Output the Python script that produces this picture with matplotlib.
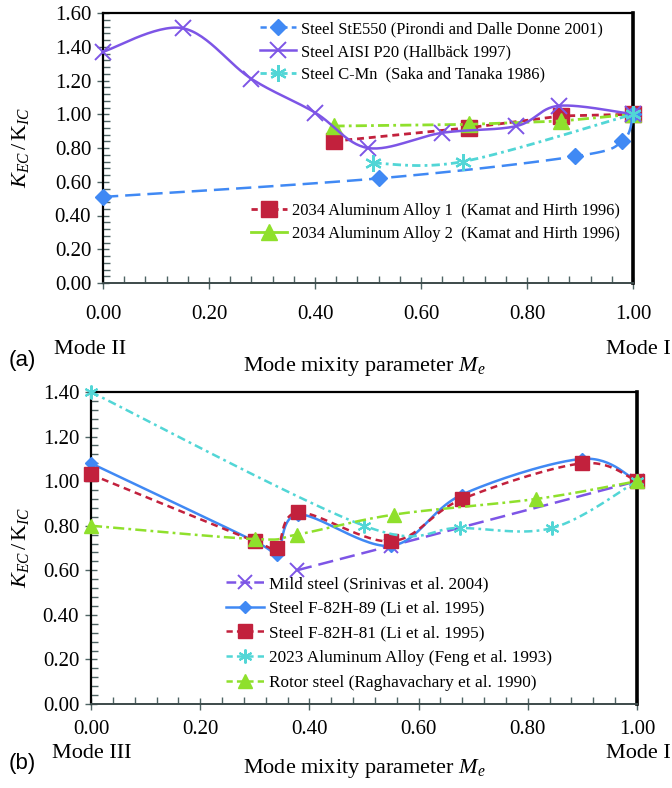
import numpy as np
import matplotlib
matplotlib.use("Agg")
import matplotlib.pyplot as plt
from matplotlib.lines import Line2D
from matplotlib.ticker import MultipleLocator, FormatStrFormatter

plt.rcParams["font.family"] = ["Liberation Serif", "DejaVu Serif"]
plt.rcParams["mathtext.fontset"] = "custom"
plt.rcParams["mathtext.rm"] = "Liberation Serif"
plt.rcParams["mathtext.it"] = "Liberation Serif:italic"
plt.rcParams["lines.scale_dashes"] = False

# ---- panel (a): Mode I / Mode II ----
a_ste550_x = [0.00, 0.52, 0.89, 0.98, 1.00]
a_ste550_y = [0.51, 0.62, 0.75, 0.84, 1.00]
a_p20_x = [0.00, 0.15, 0.28, 0.40, 0.50, 0.64, 0.78, 0.86, 1.00]
a_p20_y = [1.37, 1.51, 1.21, 1.01, 0.80, 0.89, 0.93, 1.05, 1.00]
a_cmn_x = [0.51, 0.68, 1.00]
a_cmn_y = [0.71, 0.72, 1.00]
a_al1_x = [0.435, 0.69, 0.865, 1.00]
a_al1_y = [0.84, 0.92, 0.99, 1.00]
a_al2_x = [0.435, 0.69, 0.865, 1.00]
a_al2_y = [0.93, 0.94, 0.96, 1.00]

a_labels = ["Steel StE550 (Pirondi and Dalle Donne 2001)",
            "Steel AISI P20 (Hallbäck 1997)",
            "Steel C-Mn  (Saka and Tanaka 1986)",
            "2034 Aluminum Alloy 1  (Kamat and Hirth 1996)",
            "2034 Aluminum Alloy 2  (Kamat and Hirth 1996)"]

# ---- panel (b): Mode I / Mode III ----
b_mild_x = [0.377, 0.55, 1.00]
b_mild_y = [0.60, 0.71, 1.00]
b_f89_x = [0.00, 0.30, 0.34, 0.38, 0.55, 0.68, 0.90, 1.00]
b_f89_y = [1.08, 0.73, 0.67, 0.85, 0.71, 0.94, 1.10, 1.00]
b_f81_x = [0.00, 0.30, 0.34, 0.38, 0.55, 0.68, 0.90, 1.00]
b_f81_y = [1.03, 0.73, 0.70, 0.86, 0.73, 0.92, 1.08, 1.00]
b_al_x = [0.00, 0.50, 0.675, 0.845, 1.00]
b_al_y = [1.40, 0.80, 0.79, 0.79, 1.00]
b_rotor_x = [0.00, 0.30, 0.377, 0.555, 0.815, 1.00]
b_rotor_y = [0.80, 0.74, 0.76, 0.85, 0.92, 1.00]

b_labels = ["Mild steel (Srinivas et al. 2004)",
            "Steel F-82H-89 (Li et al. 1995)",
            "Steel F-82H-81 (Li et al. 1995)",
            "2023 Aluminum Alloy (Feng et al. 1993)",
            "Rotor steel (Raghavachary et al. 1990)"]

C_BLUE = "#4089f4"
C_PURPLE = "#7d55e6"
C_CYAN = "#52d6d6"
C_RED = "#c2213d"
C_GREEN = "#8fe02c"
TICK_C = "#4f6464"

# dash patterns (points)
D_LONG = (11, 5)
D_SHORT = (5, 3.5)
D_DASHDOT = (8, 3, 2, 3)
D_CYAN = (6, 3, 2, 3)
D_LEG = (4.5, 3)


def smooth(x, y, n=30):
    """Bezier smoothing through the given points (Catmull-Rom style)."""
    p = np.column_stack([x, y]).astype(float)
    ext = np.vstack([p[0], p, p[-1]])
    xs, ys, idx = [], [], []
    t = np.linspace(0, 1, n, endpoint=False)
    for i in range(len(p) - 1):
        p0, p1, p2, p3 = ext[i], ext[i + 1], ext[i + 2], ext[i + 3]
        c1 = p1 + (p2 - p0) / 6.0
        c2 = p2 - (p3 - p1) / 6.0
        b = ((1 - t) ** 3)[:, None] * p1 + (3 * (1 - t) ** 2 * t)[:, None] * c1 \
            + (3 * (1 - t) * t ** 2)[:, None] * c2 + (t ** 3)[:, None] * p2
        idx.append(len(xs))
        xs.extend(b[:, 0]); ys.extend(b[:, 1])
    idx.append(len(xs))
    xs.append(p[-1, 0]); ys.append(p[-1, 1])
    return np.array(xs), np.array(ys), idx


def series(ax, x, y, smooth_line, **kw):
    if smooth_line:
        sx, sy, idx = smooth(x, y)
        return ax.plot(sx, sy, markevery=idx, clip_on=False, **kw)[0]
    return ax.plot(x, y, clip_on=False, **kw)[0]


def key(line, dashes, label):
    """Legend entry that mirrors a plotted line, with shorter dashes."""
    h = Line2D([], [], color=line.get_color(), lw=line.get_linewidth(),
               marker=line.get_marker(), ms=line.get_markersize(),
               mew=line.get_markeredgewidth(), label=label)
    if dashes is not None:
        h.set_dashes(dashes)
    return h


def style_axes(ax, ymax, xpad, ylab_x):
    ax.set_xlim(0, 1)
    ax.set_ylim(0, ymax)
    ax.xaxis.set_major_locator(MultipleLocator(0.2))
    ax.xaxis.set_minor_locator(MultipleLocator(0.04))
    ax.yaxis.set_major_locator(MultipleLocator(0.2))
    ax.yaxis.set_minor_locator(MultipleLocator(0.04))
    ax.xaxis.set_major_formatter(FormatStrFormatter("%.2f"))
    ax.yaxis.set_major_formatter(FormatStrFormatter("%.2f"))
    ax.tick_params(which="major", direction="inout", length=9, width=1.0,
                   color=TICK_C, labelsize=15, pad=4)
    ax.tick_params(which="minor", direction="in", length=5, width=1.0,
                   color=TICK_C)
    ax.tick_params(axis="x", which="major", pad=xpad)
    ax.spines["left"].set_color("black")
    ax.spines["left"].set_linewidth(1.6)
    ax.spines["bottom"].set_color("#3c4a4a")
    ax.spines["bottom"].set_linewidth(1.4)
    ax.spines["top"].set_color("black")
    ax.spines["top"].set_linewidth(1.6)
    ax.spines["right"].set_color("black")
    ax.spines["right"].set_linewidth(2.6)
    ax.set_ylabel(r"$K_{EC}\,/\,\mathrm{K}_{IC}$", fontsize=16)
    ax.yaxis.set_label_coords(ylab_x, 0.5)


W, H = 672, 788
fig = plt.figure(figsize=(W / 100, H / 100), dpi=100, facecolor="white")


def px_axes(l, t, r, b):
    return fig.add_axes([l / W, 1 - b / H, (r - l) / W, (b - t) / H])


def px_text(x, y, s, **kw):
    fig.text(x / W, 1 - y / H, s, **kw)


leg_kw = dict(frameon=False, handlelength=2.2, handletextpad=0.3,
              borderpad=0, borderaxespad=0, numpoints=1)

# ---------------- panel (a) ----------------
ax1 = px_axes(103, 13, 633, 283)
style_axes(ax1, 1.6, 11, (31 - 103) / 530)

l_al1 = series(ax1, a_al1_x, a_al1_y, False, color=C_RED, lw=2.0, dashes=D_SHORT,
               marker="s", ms=11, zorder=3)
l_al2 = series(ax1, a_al2_x, a_al2_y, False, color=C_GREEN, lw=2.0,
               dashes=D_DASHDOT, marker="^", ms=11, zorder=4)
l_ste = series(ax1, a_ste550_x, a_ste550_y, True, color=C_BLUE, lw=1.8,
               dashes=D_LONG, marker="D", ms=8.5, zorder=5)
l_p20 = series(ax1, a_p20_x, a_p20_y, True, color=C_PURPLE, lw=1.8, ls="-",
               marker="x", ms=12, mew=1.4, zorder=6)
l_cmn = series(ax1, a_cmn_x, a_cmn_y, True, color=C_CYAN, lw=2.0,
               dashes=D_CYAN, marker=(6, 2, 0), ms=12, mew=1.6, zorder=7)

leg1 = ax1.legend(handles=[key(l_ste, D_LEG, a_labels[0]),
                           key(l_p20, None, a_labels[1]),
                           key(l_cmn, D_LEG, a_labels[2])],
                  loc="upper left",
                  bbox_to_anchor=((260 - 103) / 530, (283 - 21) / 270),
                  labelspacing=0.42, fontsize=11.9, **leg_kw)
ax1.add_artist(leg1)
ax1.legend(handles=[key(l_al1, D_LEG, a_labels[3]),
                    key(l_al2, None, a_labels[4])],
           loc="upper left",
           bbox_to_anchor=((251 - 103) / 530, (283 - 203) / 270),
           labelspacing=0.42, fontsize=11.9, **leg_kw)

px_text(90, 350, "Mode II", fontsize=16, ha="center", va="center")
px_text(671, 350, "Mode I", fontsize=16, ha="right", va="center")
px_text(22, 360, "(a)", fontsize=16, ha="center", va="center",
        family=["Liberation Sans", "DejaVu Sans"])
px_text(364, 367, r"Mode mixity parameter $M_e$", fontsize=16,
        ha="center", va="center")

# ---------------- panel (b) ----------------
ax2 = px_axes(91, 392, 637, 704)
style_axes(ax2, 1.4, 7, (31 - 91) / 546)

m_mild = series(ax2, b_mild_x, b_mild_y, False, color=C_PURPLE, lw=1.8,
                dashes=D_LONG, marker="x", ms=10, mew=1.4, zorder=3)
m_f89 = series(ax2, b_f89_x, b_f89_y, True, color=C_BLUE, lw=1.8, ls="-",
               marker="D", ms=6, zorder=4)
m_f81 = series(ax2, b_f81_x, b_f81_y, True, color=C_RED, lw=1.8, dashes=D_SHORT,
               marker="s", ms=10.5, zorder=5)
m_al = series(ax2, b_al_x, b_al_y, True, color=C_CYAN, lw=1.8,
              dashes=D_CYAN, marker=(6, 2, 0), ms=10, mew=1.5, zorder=6)
m_rot = series(ax2, b_rotor_x, b_rotor_y, True, color=C_GREEN, lw=1.8,
               dashes=D_DASHDOT, marker="^", ms=10, zorder=7)

ax2.legend(handles=[key(m_mild, (7, 3), b_labels[0]),
                    key(m_f89, None, b_labels[1]),
                    key(m_f81, D_LEG, b_labels[2]),
                    key(m_al, D_LEG, b_labels[3]),
                    key(m_rot, D_LEG, b_labels[4])],
           loc="upper left",
           bbox_to_anchor=((226 - 91) / 546, (704 - 576) / 312),
           labelspacing=0.5, fontsize=12.4, **leg_kw)

px_text(92, 754, "Mode III", fontsize=16, ha="center", va="center")
px_text(671, 754, "Mode I", fontsize=16, ha="right", va="center")
px_text(22, 764, "(b)", fontsize=16, ha="center", va="center",
        family=["Liberation Sans", "DejaVu Sans"])
px_text(364, 768, r"Mode mixity parameter $M_e$", fontsize=16,
        ha="center", va="center")

fig.savefig("out.png", dpi=100, facecolor="white")
